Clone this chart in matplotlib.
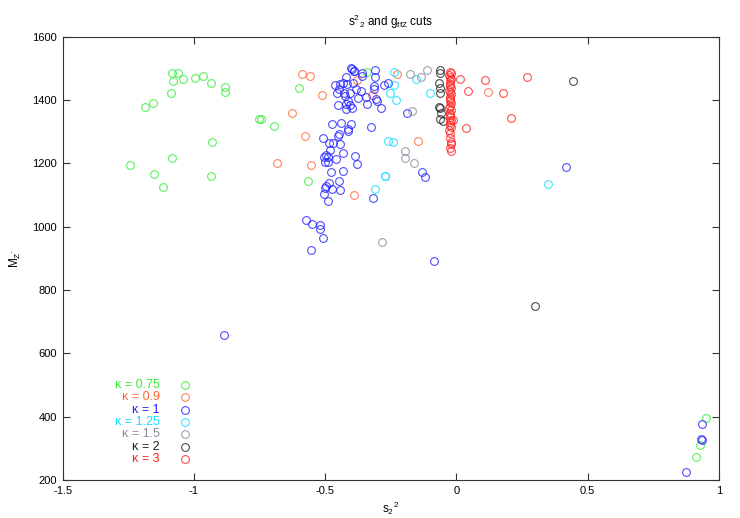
import matplotlib
matplotlib.use("Agg")
import matplotlib.pyplot as plt

plt.rcParams['font.family'] = ['Liberation Sans', 'DejaVu Sans']
plt.rcParams['mathtext.fontset'] = 'custom'
plt.rcParams['mathtext.rm'] = 'Liberation Sans'
plt.rcParams['mathtext.it'] = 'Liberation Sans'

# kappa = 0.75
s_075 = [-1.244, -1.151, -1.119, -1.084, -0.934, -0.930, -1.187, -1.155, -1.088, -1.083,
         -1.060, -1.081, -1.042, -0.995, -0.966, -0.934, -0.883, -0.881, -0.752, -0.746,
         -0.695, -0.600, -0.567, -0.340, 0.950, 0.913, 0.927]
m_075 = [1195, 1166, 1124, 1218, 1161, 1268, 1379, 1390, 1421, 1484,
         1484, 1461, 1466, 1470, 1476, 1453, 1440, 1424, 1340, 1340,
         1317, 1437, 1143, 1489, 396, 272, 311]

# kappa = 0.9
s_09 = [-0.590, -0.557, -0.511, -0.626, -0.576, -0.685, -0.553, -0.391, -0.377, -0.323,
        -0.226, -0.146, 0.121]
m_09 = [1483, 1475, 1417, 1358, 1286, 1202, 1194, 1099, 1462, 1415,
        1481, 1270, 1424]

# kappa = 1
s_1 = [-0.398, -0.390, -0.358, -0.312, -0.419, -0.310, -0.360, -0.259, -0.275, -0.316,
       -0.315, -0.416, -0.431, -0.443, -0.462, -0.396, -0.363, -0.384, -0.406, -0.428,
       -0.447, -0.454, -0.424, -0.375, -0.344, -0.307, -0.304, -0.342, -0.412, -0.420,
       -0.450, -0.405, -0.397, -0.421, -0.288, -0.190, -0.473, -0.440, -0.401, -0.412,
       -0.415, -0.447, -0.450, -0.443, -0.508, -0.326, -0.486, -0.472, -0.482, -0.498,
       -0.504, -0.501, -0.489, -0.491, -0.459, -0.431, -0.386, -0.379, -0.434, -0.479,
       -0.447, -0.486, -0.498, -0.502, -0.476, -0.505, -0.444, -0.489, -0.317, -0.132,
       -0.121, -0.573, -0.549, -0.520, -0.520, -0.508, -0.554, -0.086, -0.886, 0.417,
       0.936, 0.931, 0.934, 0.874, -0.400, -0.391]
m_1 = [1498, 1491, 1485, 1495, 1473, 1473, 1477, 1455, 1447, 1445,
       1436, 1450, 1453, 1450, 1447, 1453, 1429, 1434, 1423, 1423,
       1434, 1421, 1413, 1407, 1410, 1402, 1397, 1387, 1397, 1387,
       1384, 1384, 1376, 1372, 1374, 1358, 1323, 1327, 1323, 1308,
       1302, 1292, 1286, 1260, 1279, 1314, 1263, 1263, 1242, 1226,
       1221, 1205, 1221, 1205, 1213, 1232, 1223, 1197, 1177, 1174,
       1144, 1137, 1129, 1121, 1120, 1102, 1115, 1081, 1091, 1174,
       1158, 1022, 1008, 1005, 992, 963, 927, 892, 658, 1189,
       376, 329, 327, 225, 1500, 1493]

# kappa = 1.25
s_125 = [-0.238, -0.156, -0.238, -0.252, -0.230, -0.099, -0.259, -0.241, -0.273, -0.271,
         -0.311, 0.348]
m_125 = [1489, 1466, 1447, 1421, 1400, 1422, 1272, 1267, 1161, 1160,
         1118, 1135]

# kappa = 1.5
s_15 = [-0.177, -0.136, -0.112, -0.170, -0.196, -0.196, -0.161, -0.284]
m_15 = [1481, 1473, 1496, 1364, 1239, 1216, 1202, 951]

# kappa = 2
s_2 = [-0.061, -0.061, -0.066, -0.061, -0.063, -0.066, -0.061, -0.057, -0.061, -0.053,
       0.443, 0.299]
m_2 = [1495, 1484, 1455, 1437, 1421, 1379, 1374, 1360, 1339, 1335,
       1460, 750]

# kappa = 3
s_3 = [-0.025, -0.022, -0.027, -0.024, -0.021, -0.026, -0.023, -0.025, -0.022, -0.027,
       -0.024, -0.021, -0.025, -0.023, -0.026, -0.022, -0.024, -0.027, -0.021, -0.025,
       -0.023, -0.026, -0.022, -0.024, -0.025, -0.021, -0.027, -0.023, -0.025, -0.022,
       -0.020, -0.024, -0.022,
       0.012, 0.108, 0.043, 0.178, 0.267, 0.208, 0.035, -0.013]
m_3 = [1490, 1485, 1478, 1472, 1465, 1460, 1452, 1445, 1438, 1432,
       1425, 1418, 1410, 1403, 1398, 1390, 1382, 1375, 1368, 1360,
       1352, 1345, 1338, 1330, 1322, 1315, 1305, 1295, 1280, 1268,
       1260, 1248, 1240,
       1465, 1462, 1428, 1422, 1473, 1343, 1311, 1337]

labels = ["\u03ba = 0.75", "\u03ba = 0.9", "\u03ba = 1", "\u03ba = 1.25",
          "\u03ba = 1.5", "\u03ba = 2", "\u03ba = 3"]
colors = ["#33ee33", "#ff6633", "#2222ff", "#11ddff", "#8c8c9c", "#222222", "#ff2222"]
series = [(s_075, m_075), (s_09, m_09), (s_1, m_1), (s_125, m_125),
          (s_15, m_15), (s_2, m_2), (s_3, m_3)]

fig = plt.figure(figsize=(7.4, 5.18), dpi=100)
ax = fig.add_axes([0.0847, 0.0734, 0.8869, 0.8558])

for (xs, ys), c in zip(series, colors):
    ax.plot(xs, ys, linestyle="none", marker="o", markersize=5.6, markerfacecolor="none",
            markeredgecolor=c, markeredgewidth=0.8, alpha=0.8)

ax.set_xlim(-1.5, 1)
ax.set_ylim(200, 1600)
ax.set_xticks([-1.5, -1, -0.5, 0, 0.5, 1])
ax.set_xticklabels(["-1.5", "-1", "-0.5", "0", "0.5", "1"])
ax.set_yticks(range(200, 1601, 200))
ax.tick_params(direction="in", length=5, width=0.8, top=True, right=True, labelsize=8,
               pad=4, colors="#333333", labelcolor="black")
for sp in ax.spines.values():
    sp.set_linewidth(0.8)
    sp.set_color("#333333")

ax.set_title("s$^{2}$$_{2}$ and g$_{ffZ}$ cuts", fontsize=8.5, pad=8)
ax.set_xlabel("s$_{2}$$^{2}$", fontsize=8.5, labelpad=3)
ax.set_ylabel("M$_{Z'}$", fontsize=8.5, labelpad=7)

# legend, gnuplot style: text right-aligned, marker after it
for i, (lab, c) in enumerate(zip(labels, colors)):
    yy = 0.2143 - i * 0.0279
    ax.text(0.148, yy, lab, color=c, fontsize=9, ha="right", va="center",
            transform=ax.transAxes)
    ax.plot([0.186], [yy], linestyle="none", marker="o", markersize=5.6,
            markerfacecolor="none", markeredgecolor=c, markeredgewidth=0.8, alpha=0.8,
            transform=ax.transAxes, clip_on=False)

fig.savefig("out.png", dpi=100)
